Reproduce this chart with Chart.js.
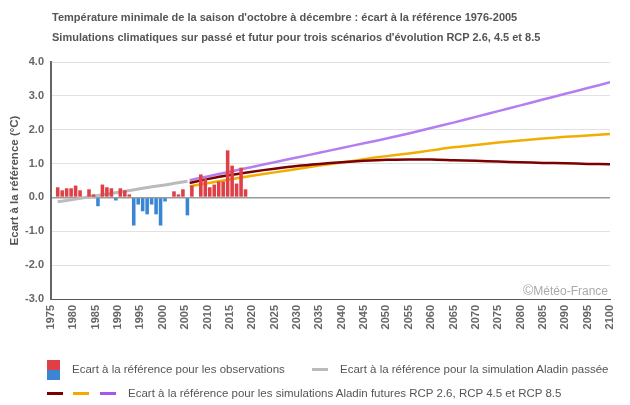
<!DOCTYPE html>
<html lang="fr">
<head>
<meta charset="utf-8">
<script src="https://cdn.jsdelivr.net/npm/chart.js@4.4.1/dist/chart.umd.min.js"></script>
<style>
  body { margin: 0; background: #fff; font-family: "Liberation Sans", Arial, sans-serif; }
  #wrap { position: relative; width: 630px; height: 405px; }
  .title { position: absolute; left: 52px; font-size: 11px; font-weight: bold; color: #555; line-height: 20px; white-space: nowrap; }
  .leg { position: absolute; font-size: 11.5px; color: #555; line-height: 16px; white-space: nowrap; }
  .mark { position: absolute; height: 3px; }
  #copy { position: absolute; left: 523px; top: 282px; font-size: 12px; color: #aaa; line-height: 16px; }
</style>
</head>
<body>
<div id="wrap">
  <canvas id="chart" width="630" height="405"></canvas>
  <div class="title" style="top:7px">Température minimale de la saison d'octobre à décembre : écart à la référence 1976-2005</div>
  <div class="title" style="top:27px">Simulations climatiques sur passé et futur pour trois scénarios d'évolution RCP 2.6, 4.5 et 8.5</div>
  <div id="copy"><span style="font-size:14px">©</span>Météo-France</div>

  <div style="position:absolute;left:47px;top:360px;width:13px;height:10px;background:#df3f47"></div>
  <div style="position:absolute;left:47px;top:370px;width:13px;height:10px;background:#3a86d4"></div>
  <div class="leg" style="left:72px;top:361px">Ecart à la référence pour les observations</div>
  <div class="mark" style="left:312px;top:368px;width:16px;background:#bbb"></div>
  <div class="leg" style="left:340px;top:361px">Ecart à la référence pour la simulation Aladin passée</div>

  <div class="mark" style="left:47px;top:392px;width:16px;background:#7b0000"></div>
  <div class="mark" style="left:73px;top:392px;width:16px;background:#f5a800"></div>
  <div class="mark" style="left:100px;top:392px;width:16px;background:#a855f0"></div>
  <div class="leg" style="left:128px;top:385px">Ecart à la référence pour les simulations Aladin futures RCP 2.6, RCP 4.5 et RCP 8.5</div>
</div>
<script>
// observations (écart annuel)
const obsYears = [1976, 1977, 1978, 1979, 1980, 1981, 1982, 1983, 1984, 1985, 1986, 1987, 1988, 1989, 1990,
  1991, 1992, 1993, 1994, 1995, 1996, 1997, 1998, 1999, 2000, 2001, 2002, 2003, 2004, 2005, 2006,
  2007, 2008, 2009, 2010, 2011, 2012, 2013, 2014, 2015, 2016, 2017, 2018];
const obsValues = [0.30, 0.21, 0.27, 0.27, 0.35, 0.21, 0, 0.24, 0.09, -0.26, 0.38, 0.30, 0.27, -0.09, 0.27,
  0.21, 0.09, -0.83, -0.21, -0.41, -0.50, -0.21, -0.50, -0.83, -0.12, 0, 0.18, 0.09, 0.24, -0.53, 0.35,
  0, 0.68, 0.56, 0.30, 0.38, 0.47, 0.47, 1.39, 0.94, 0.41, 0.88, 0.24];

// simulation Aladin passée
const pastYears = [1976, 1980, 1985, 1990, 1995, 2000, 2005];
const pastValues = [-0.13, -0.05, 0.06, 0.16, 0.27, 0.37, 0.48];

// simulations Aladin futures
const futureYears = [2006, 2010, 2015, 2020, 2025, 2030, 2035, 2040, 2045, 2050,
  2055, 2060, 2065, 2070, 2075, 2080, 2085, 2090, 2095, 2100];
const rcp26 = [0.43, 0.54, 0.66, 0.76, 0.85, 0.93, 0.99, 1.04, 1.08, 1.11,
  1.12, 1.12, 1.10, 1.08, 1.06, 1.04, 1.02, 1.01, 0.99, 0.98];
const rcp45 = [0.33, 0.42, 0.53, 0.64, 0.74, 0.84, 0.94, 1.03, 1.13, 1.22,
  1.30, 1.39, 1.48, 1.55, 1.62, 1.68, 1.74, 1.79, 1.83, 1.87];
const rcp85 = [0.51, 0.62, 0.76, 0.90, 1.04, 1.18, 1.32, 1.46, 1.60, 1.74,
  1.89, 2.05, 2.21, 2.38, 2.55, 2.72, 2.89, 3.06, 3.23, 3.40];

const RED = '#df3f47';
const BLUE = '#3a86d4';
const FONT = '"Liberation Sans", Arial, sans-serif';

// valeurs annuelles placées au milieu de l'année
const mid = (years, values) => years.map((y, i) => ({ x: y + 0.5, y: values[i] }));
const pts = (years, values) => years.map((y, i) => ({ x: y, y: values[i] }));

const lineStyle = {
  type: 'line',
  pointRadius: 0,
  borderWidth: 2.5,
  tension: 0.3,
  fill: false,
  order: 2,
};

new Chart(document.getElementById('chart'), {
  type: 'bar',
  data: {
    datasets: [
      {
        label: 'Observations',
        data: mid(obsYears, obsValues),
        backgroundColor: ctx => (ctx.raw && ctx.raw.y < 0 ? BLUE : RED),
        barPercentage: 1,
        categoryPercentage: 0.8,
        order: 0,
      },
      { ...lineStyle, label: 'Aladin passée', data: mid(pastYears, pastValues), borderColor: '#bbbbbb', borderWidth: 3 },
      { ...lineStyle, label: 'RCP 2.6', data: pts(futureYears, rcp26), borderColor: '#7b0000' },
      { ...lineStyle, label: 'RCP 4.5', data: pts(futureYears, rcp45), borderColor: '#f2ae00' },
      { ...lineStyle, label: 'RCP 8.5', data: pts(futureYears, rcp85), borderColor: '#b47ef0' },
    ],
  },
  options: {
    responsive: false,
    animation: false,
    layout: { padding: { left: 0, top: 62, right: 20, bottom: 66 } },
    plugins: { legend: { display: false }, tooltip: { enabled: false } },
    scales: {
      x: {
        type: 'linear',
        min: 1975,
        max: 2100,
        offset: false,
        grid: { display: false },
        border: { display: true, color: '#555', width: 1 },
        ticks: {
          stepSize: 5,
          autoSkip: false,
          minRotation: 90,
          maxRotation: 90,
          padding: -2,
          color: '#666',
          font: { family: FONT, size: 11, weight: 'bold' },
          callback: v => String(v),
        },
        afterFit: s => { s.height = 40; },
      },
      y: {
        min: -3,
        max: 4,
        grid: {
          drawTicks: false,
          color: c => (c.tick.value === 0 ? '#999' : '#e2e2e2'),
          lineWidth: c => (c.tick.value === 0 ? 1.5 : 1),
        },
        border: { display: true, color: '#666', width: 2 },
        ticks: {
          stepSize: 1,
          padding: 7,
          color: '#666',
          font: { family: FONT, size: 11, weight: 'bold' },
          callback: v => v.toFixed(1),
        },
        title: {
          display: true,
          text: 'Ecart à la référence (°C)',
          color: '#555',
          padding: { top: 8, bottom: 0 },
          font: { family: FONT, size: 11.5, weight: 'bold' },
        },
        afterFit: s => { s.width = 51; },
      },
    },
  },
});
</script>
</body>
</html>
